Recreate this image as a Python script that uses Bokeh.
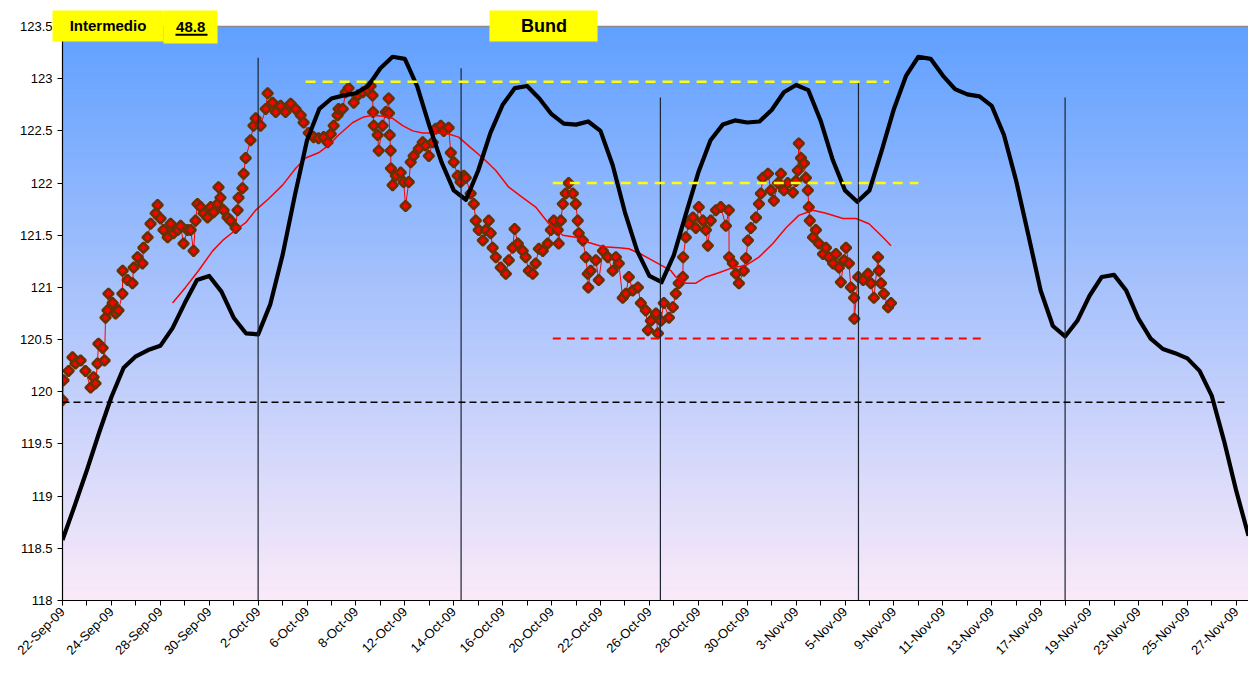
import math
from bokeh.plotting import figure
from bokeh.models import Range1d, FixedTicker, CustomJSTickFormatter
from bokeh.core.properties import value
from bokeh.embed import file_html
from bokeh.resources import INLINE

# ---------------- data ----------------
trading_days = [
    "22-Sep-09", "23-Sep-09", "24-Sep-09", "25-Sep-09", "28-Sep-09", "29-Sep-09", "30-Sep-09",
    "1-Oct-09", "2-Oct-09", "5-Oct-09", "6-Oct-09", "7-Oct-09", "8-Oct-09", "9-Oct-09",
    "12-Oct-09", "13-Oct-09", "14-Oct-09", "15-Oct-09", "16-Oct-09", "19-Oct-09", "20-Oct-09",
    "21-Oct-09", "22-Oct-09", "23-Oct-09", "26-Oct-09", "27-Oct-09", "28-Oct-09", "29-Oct-09",
    "30-Oct-09", "2-Nov-09", "3-Nov-09", "4-Nov-09", "5-Nov-09", "6-Nov-09", "9-Nov-09",
    "10-Nov-09", "11-Nov-09", "12-Nov-09", "13-Nov-09", "16-Nov-09", "17-Nov-09", "18-Nov-09",
    "19-Nov-09", "20-Nov-09", "23-Nov-09", "24-Nov-09", "25-Nov-09", "26-Nov-09", "27-Nov-09",
]

y_ticks = [118.0, 118.5, 119.0, 119.5, 120.0, 120.5, 121.0, 121.5, 122.0, 122.5, 123.0, 123.5]

# intraday Bund price (x = trading-day index, fractional)
bund_day = [
    0.00, 0.04, 0.25, 0.41, 0.53, 0.74, 0.94, 1.15, 1.27, 1.35, 1.43, 1.47, 1.64, 1.72, 1.76, 1.84,
    1.88, 2.05, 2.17, 2.29, 2.45, 2.46, 2.66, 2.86,
    2.91, 3.07, 3.27, 3.31, 3.48, 3.60, 3.81, 3.89, 4.01, 4.13, 4.30, 4.42, 4.54, 4.71, 4.83, 4.95,
    5.11, 5.24, 5.36, 5.44, 5.52, 5.65, 5.77, 5.93, 6.06, 6.18, 6.34, 6.38, 6.46, 6.59, 6.75, 6.87,
    7.08, 7.16, 7.20, 7.36, 7.41, 7.49, 7.69, 7.81,
    7.90, 8.10, 8.31, 8.39, 8.59, 8.72, 8.92, 9.12, 9.33, 9.53, 9.74, 9.86, 10.07, 10.27, 10.47,
    10.68, 10.84, 10.97, 11.09, 11.25, 11.29, 11.46, 11.58, 11.70, 11.91, 12.07, 12.28, 12.48,
    12.60, 12.68, 12.70, 12.73, 12.89, 12.93, 13.09, 13.22, 13.34, 13.35, 13.38, 13.42, 13.43,
    13.50, 13.63, 13.83, 13.95, 14.03, 14.16, 14.24, 14.36, 14.57, 14.73, 14.85, 14.98, 15.14,
    15.26, 15.47, 15.59, 15.79, 15.88, 16.00, 16.16, 16.28, 16.41,
    16.49, 16.69, 16.82, 16.90, 17.02, 17.19, 17.31, 17.43, 17.51, 17.59, 17.72, 17.92, 18.13,
    18.25, 18.41, 18.49, 18.62, 18.82, 18.94, 19.07, 19.23, 19.35, 19.48, 19.64, 19.84, 19.97,
    20.09, 20.25, 20.29, 20.38, 20.46, 20.58, 20.70, 20.87, 20.99, 21.07, 21.11, 21.28, 21.40,
    21.48, 21.50, 21.60, 21.81, 21.93, 22.10, 22.30, 22.50, 22.63, 22.75, 22.91, 23.04, 23.16,
    23.32, 23.53, 23.65, 23.85, 23.94, 24.06, 24.27, 24.35, 24.47, 24.59,
    24.80, 24.96, 25.08, 25.20, 25.37, 25.38, 25.49, 25.61, 25.78, 25.90, 26.02, 26.19, 26.31,
    26.39, 26.51, 26.72, 26.92, 27.13, 27.25, 27.26, 27.41, 27.54, 27.66, 27.86, 27.95, 28.03,
    28.15, 28.36, 28.48, 28.56, 28.64, 28.85, 28.97, 29.09, 29.26, 29.38, 29.50, 29.66, 29.87,
    29.99, 30.07, 30.11, 30.20, 30.32, 30.40, 30.48, 30.52, 30.56, 30.69, 30.81, 30.93, 31.10,
    31.22, 31.34, 31.51, 31.63, 31.75, 31.83, 31.96, 32.04, 32.16, 32.24, 32.37, 32.38, 32.54,
    32.74, 32.94, 33.06, 33.18, 33.35, 33.39, 33.47, 33.59, 33.76, 33.88,
]
bund_price = [
    119.92, 120.11, 120.20, 120.33, 120.27, 120.30, 120.20, 120.04, 120.14, 120.08, 120.27, 120.46,
    120.42, 120.30, 120.71, 120.78, 120.94, 120.85, 120.75, 120.78, 120.94, 121.16, 121.07, 121.04,
    121.19, 121.29, 121.23, 121.38, 121.48, 121.61, 121.71, 121.79, 121.66, 121.55, 121.48, 121.61,
    121.52, 121.55, 121.59, 121.42, 121.55, 121.55, 121.35, 121.64, 121.80, 121.77, 121.71, 121.67,
    121.77, 121.72, 121.80, 121.96, 121.86, 121.74, 121.67, 121.64, 121.57, 121.74, 121.86, 121.95,
    122.09, 122.24, 122.41, 122.55,
    122.62, 122.55, 122.71, 122.86, 122.77, 122.68, 122.74, 122.68, 122.76, 122.71, 122.65, 122.58,
    122.48, 122.44, 122.43, 122.44, 122.39, 122.47, 122.55, 122.65, 122.71, 122.71, 122.87, 122.91,
    122.77, 122.84, 122.87, 122.89, 122.93, 122.84, 122.68, 122.55, 122.46, 122.31, 122.55, 122.68,
    122.81, 122.67, 122.46, 122.31, 122.14, 121.98, 122.07, 122.10, 122.01, 121.78, 122.01, 122.20,
    122.26, 122.33, 122.39, 122.36, 122.26, 122.39, 122.52, 122.55, 122.50, 122.53, 122.29, 122.20,
    122.07, 122.01, 122.07,
    122.05, 121.90, 121.80, 121.64, 121.55, 121.45, 121.55, 121.64, 121.52, 121.38, 121.29, 121.19,
    121.13, 121.26, 121.38, 121.56, 121.42, 121.35, 121.29, 121.16, 121.13, 121.23, 121.37, 121.35,
    121.42, 121.55, 121.64, 121.55, 121.42, 121.64, 121.80, 121.90, 122.00, 121.90, 121.80, 121.64,
    121.52, 121.45, 121.29, 121.13, 121.00, 121.16, 121.26, 121.07, 121.35, 121.29, 121.16, 121.29,
    121.23, 120.90, 120.94, 121.10, 120.97, 121.00, 120.85, 120.78, 120.59, 120.68, 120.75, 120.56,
    120.68, 120.85,
    120.71, 120.81, 120.94, 121.04, 121.10, 121.29, 121.48, 121.61, 121.67, 121.57, 121.77, 121.64,
    121.55, 121.40, 121.64, 121.74, 121.77, 121.59, 121.74, 121.29, 121.23, 121.13, 121.04, 121.16,
    121.28, 121.45, 121.57, 121.67, 121.80, 121.90, 122.05, 122.09, 121.93, 121.83, 122.00, 122.09,
    121.93, 122.00, 121.91, 122.02, 122.12, 122.38, 122.24, 122.19, 122.05, 121.93, 121.77, 121.64,
    121.48, 121.55, 121.42, 121.32, 121.38, 121.29, 121.23, 121.32, 121.19, 121.05, 121.26, 121.38,
    121.23, 121.00, 120.90, 120.70, 121.10, 121.07, 121.13, 121.04, 120.90, 121.29, 121.16, 121.04,
    120.94, 120.81, 120.85,
]

# moving average
ma_day = [
    4.50, 5.03, 5.56, 6.14, 6.55, 7.08, 7.49, 7.90, 8.43, 9.00, 9.53, 9.94, 10.47, 10.88, 11.29,
    11.87, 12.28, 12.68, 13.09, 13.50, 13.91, 14.32, 14.73, 15.26, 15.79, 16.20, 16.69, 17.19,
    17.72, 18.25, 18.82, 19.35, 19.89, 20.46, 20.99, 21.52, 22.10, 22.75, 23.16, 23.73, 24.27,
    24.88, 25.08, 25.49, 25.90, 26.31, 26.84, 27.41, 27.95, 28.48, 29.05, 29.58, 30.11, 30.69,
    31.22, 31.92, 32.45, 32.98, 33.55, 33.88,
]
ma_price = [
    120.85, 121.00, 121.16, 121.35, 121.45, 121.55, 121.62, 121.74, 121.85, 121.98, 122.14, 122.24,
    122.29, 122.36, 122.46, 122.58, 122.63, 122.65, 122.64, 122.62, 122.55, 122.50, 122.48, 122.48,
    122.47, 122.44, 122.34, 122.24, 122.12, 121.96, 121.86, 121.77, 121.61, 121.50, 121.48, 121.43,
    121.39, 121.38, 121.37, 121.31, 121.24, 121.16, 121.10, 121.04, 121.04, 121.10, 121.14, 121.19,
    121.21, 121.29, 121.42, 121.57, 121.69, 121.74, 121.71, 121.66, 121.66, 121.61, 121.48, 121.40,
]

# cycle curve, read every half trading day
cycle_day = [k / 2 for k in range(98)]
cycle_price = [
    118.58, 118.91, 119.25, 119.61, 119.95, 120.23, 120.34, 120.40, 120.44, 120.61,
    120.85, 121.07, 121.11, 120.96, 120.71, 120.56, 120.55, 120.84, 121.31, 121.88,
    122.41, 122.71, 122.81, 122.84, 122.86, 122.93, 123.10, 123.21, 123.19, 122.93,
    122.55, 122.20, 121.93, 121.84, 122.12, 122.48, 122.75, 122.91, 122.93, 122.81,
    122.66, 122.57, 122.56, 122.59, 122.50, 122.17, 121.72, 121.35, 121.11, 121.05,
    121.31, 121.71, 122.10, 122.41, 122.56, 122.60, 122.58, 122.59, 122.70, 122.87,
    122.94, 122.89, 122.60, 122.22, 121.93, 121.82, 121.93, 122.31, 122.71, 123.03,
    123.21, 123.19, 123.03, 122.90, 122.85, 122.83, 122.74, 122.46, 122.02, 121.50,
    120.97, 120.63, 120.53, 120.68, 120.92, 121.10, 121.12, 120.97, 120.70, 120.51,
    120.41, 120.37, 120.32, 120.20, 119.96, 119.53, 119.05, 118.62,
]

# cycle lows (vertical markers)
vline_day = [8.0, 16.3, 24.45, 32.55, 41.0]
vline_top = [123.20, 123.10, 122.82, 122.96, 122.82]

# horizontal levels
level_price = [119.90, 122.97, 122.00, 120.51]
level_start = [0.0, 9.94, 20.05, 20.05]
level_end = [47.6, 33.8, 35.0, 37.56]
level_color = ["#000000", "#ffff00", "#ffff00", "#ff0000"]
level_dash = ["7 4", "10 7", "10 7", "8 6"]
level_width = [1.5, 2.5, 2.5, 2.0]

header_texts = ["Intermedio", "48.8", "Bund"]

FONT = "Liberation Sans"
Y_MIN, Y_MAX = 118.0, 123.5
Y_TOP = 123.6725  # a little white space above the plot area for the header boxes

# ---------------- figure ----------------
p = figure(width=1248, height=675, x_range=Range1d(0, 48.5), y_range=Range1d(Y_MIN, Y_TOP),
           output_backend="svg", toolbar_location=None,
           min_border_left=62, min_border_right=0, min_border_top=8, min_border_bottom=75)
p.xgrid.visible = False
p.ygrid.visible = False
p.background_fill_color = "#ffffff"
p.border_fill_color = "#ffffff"
p.outline_line_color = None

# gradient background bands (plot area only)
n = 110
top_rgb = (96, 160, 255)
bot_rgb = (251, 234, 249)
bb, tt, cc = [], [], []
for i in range(n):
    b = Y_MIN + (Y_MAX - Y_MIN) * i / n
    t = Y_MIN + (Y_MAX - Y_MIN) * (i + 1) / n
    f = (Y_MAX - (b + t) / 2) / (Y_MAX - Y_MIN)
    rgb = tuple(int(round(top_rgb[j] + (bot_rgb[j] - top_rgb[j]) * f)) for j in range(3))
    bb.append(b)
    tt.append(t)
    cc.append("#%02x%02x%02x" % rgb)
p.quad(left=-1, right=50, bottom=bb, top=tt, fill_color=cc, line_color=cc, line_width=1, level="underlay")
# top border of plot area
p.line([0, 48.5], [Y_MAX, Y_MAX], line_color="#8a8a8a", line_width=1.5)

# intraday series
p.line(bund_day, bund_price, line_color="#ff0000", line_width=1)
p.scatter(bund_day, bund_price, marker="square", angle=math.pi / 4, size=7.2,
          fill_color="#ff0000", line_color="#6b3000", line_width=2.6)

# moving average
p.line(ma_day, ma_price, line_color="#ff0000", line_width=1.5)

# cycle curve
p.line(cycle_day, cycle_price, line_color="#000000", line_width=4.2, line_join="round")

# vertical cycle-low markers
p.segment(x0=vline_day, y0=[Y_MIN] * len(vline_day), x1=vline_day, y1=vline_top,
          line_color="#1c2330", line_width=1.2)

# horizontal levels
for yv, x0, x1, c, d, w in zip(level_price, level_start, level_end, level_color, level_dash, level_width):
    p.line([x0, x1], [yv, yv], line_color=c, line_dash=d, line_width=w)

# ---------------- axes ----------------
p.yaxis.ticker = FixedTicker(ticks=y_ticks)
p.yaxis.bounds = (Y_MIN, Y_MAX)
p.yaxis.formatter = CustomJSTickFormatter(code="return String(Number(tick.toFixed(1)));")
p.xaxis.ticker = FixedTicker(ticks=list(range(len(trading_days))))
p.xaxis.formatter = CustomJSTickFormatter(
    args=dict(labels=trading_days),
    code="const i = Math.round(tick); return (i % 2 == 0 && i < labels.length) ? labels[i] : '';")
p.xaxis.major_label_orientation = math.pi / 4

for ax in (p.xaxis[0], p.yaxis[0]):
    ax.axis_line_color = "#000000"
    ax.axis_line_width = 1.2
    ax.major_tick_line_color = "#000000"
    ax.major_tick_out = 5
    ax.major_tick_in = 0
    ax.minor_tick_out = 0
    ax.minor_tick_in = 0
    ax.major_label_text_font = FONT
    ax.major_label_text_font_size = "13px"
    ax.major_label_text_color = "#000000"
p.yaxis.major_label_standoff = 5
p.xaxis.major_label_standoff = 4

# ---------------- header boxes ----------------
box_left = [-0.41, 4.13, 17.46]
box_right = [4.13, 6.34, 21.88]
box_bottom = [123.356, 123.337, 123.356]
box_top = [123.653, 123.653, 123.653]
p.quad(left=box_left, right=box_right, bottom=box_bottom, top=box_top,
       fill_color="#ffff00", line_color=None, level="overlay")
p.text(x=[1.86, 5.24, 19.69], y=[123.505, 123.495, 123.505], text=header_texts,
       text_font=value(FONT), text_font_style="bold", text_font_size=["15px", "15px", "18px"],
       text_align="center", text_baseline="middle", text_color="#000000", level="overlay")
# underline of the value
p.line([4.62, 5.93], [123.42, 123.42], line_color="#000000", line_width=2, level="overlay")

open("out.html", "w").write(file_html(p, INLINE))
